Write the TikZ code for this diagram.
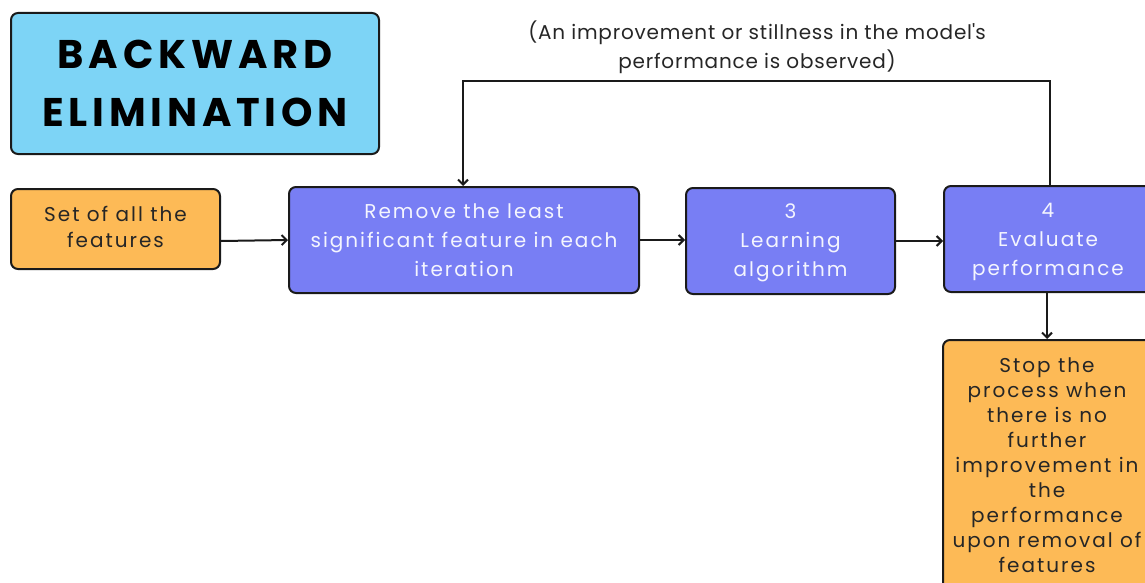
\documentclass[tikz,border=0pt]{standalone}
\usepackage{fontspec}
\setmainfont{Poppins}
\newfontfamily\titlefont[LetterSpace=12]{Poppins}
\newfontfamily\bodyfont[LetterSpace=10]{Poppins}
\newfontfamily\notefont[LetterSpace=4]{Poppins}
\usetikzlibrary{arrows.meta}
\definecolor{skyfill}{HTML}{7DD4F6}
\definecolor{orangefill}{HTML}{FDBA56}
\definecolor{violetfill}{HTML}{787EF4}
\definecolor{edgeline}{HTML}{1A1A1A}
% centred block of lines, moved down by #1 inside its node
\newcommand\shiftedlines[3]{\raisebox{#1}[0pt][0pt]{\parbox{200pt}{\centering\baselineskip=#2 #3}}}
\tikzset{
  box/.style={draw=edgeline, line width=2pt, rounded corners=7pt, align=center,
              inner sep=0pt},
  titlebox/.style={box, fill=skyfill, font=\titlefont\bfseries\fontsize{40}{58}\selectfont},
  inputbox/.style={box, fill=orangefill, text=black!85, font=\bodyfont\fontsize{20}{26}\selectfont},
  stepbox/.style={box, fill=violetfill, text=white!92!violetfill, font=\bodyfont\fontsize{20}{29}\selectfont},
  stopbox/.style={box, fill=orangefill, text=black!85, font=\bodyfont\fontsize{20}{25}\selectfont},
  flow/.style={draw=edgeline, line width=2pt, -{Straight Barb[length=5pt,width=10pt,line width=2pt]}},
  note/.style={align=center, text=black!85, font=\notefont\fontsize{20}{29}\selectfont}
}
\begin{document}
\begin{tikzpicture}[x=1pt,y=-1pt]
  \useasboundingbox (0,0) rectangle (1145,583);
  \clip (0,0) rectangle (1145,583);

  \node[titlebox, minimum width=368pt, minimum height=141pt] (title) at (195,83.5)
    {BACKWARD\\ELIMINATION};

  \node[inputbox, minimum width=209pt, minimum height=80pt] (all) at (115.5,229)
    {\shiftedlines{-3pt}{26pt}{Set of all the\\features}};

  \node[stepbox, minimum width=350pt, minimum height=106pt] (remove) at (464,240)
    {Remove the least\\significant feature in each\\iteration};

  \node[stepbox, minimum width=209pt, minimum height=106pt] (learn) at (790.5,241)
    {\shiftedlines{-7pt}{29pt}{3\\Learning\\algorithm}};

  \node[stepbox, minimum width=208pt, minimum height=106pt] (eval) at (1048,239)
    {\shiftedlines{-8pt}{29pt}{4\\Evaluate\\performance}};

  \node[stopbox, minimum width=208pt, minimum height=250pt] (stop) at (1047,465)
    {Stop the\\process when\\there is no\\further\\improvement in\\the\\performance\\upon removal of\\features};

  \node[note] (obs) at (757,47)
    {(An improvement or stillness in the model\textquotesingle s\\performance is observed)};

  \coordinate (upR) at (1050,81);
  \coordinate (upL) at (463,81);

  \draw[flow] ([yshift=-12pt]all.east) -- (remove.west);
  \draw[flow] (remove.east) -- (learn.west |- remove.east);
  \draw[flow] (learn.east) -- (eval.west |- learn.east);
  \draw[flow] (eval.south -| stop.north) -- (stop.north);
  \draw[flow] (eval.north -| upR) -- (upR) -- (upL) -- (remove.north -| upL);
\end{tikzpicture}
\end{document}
